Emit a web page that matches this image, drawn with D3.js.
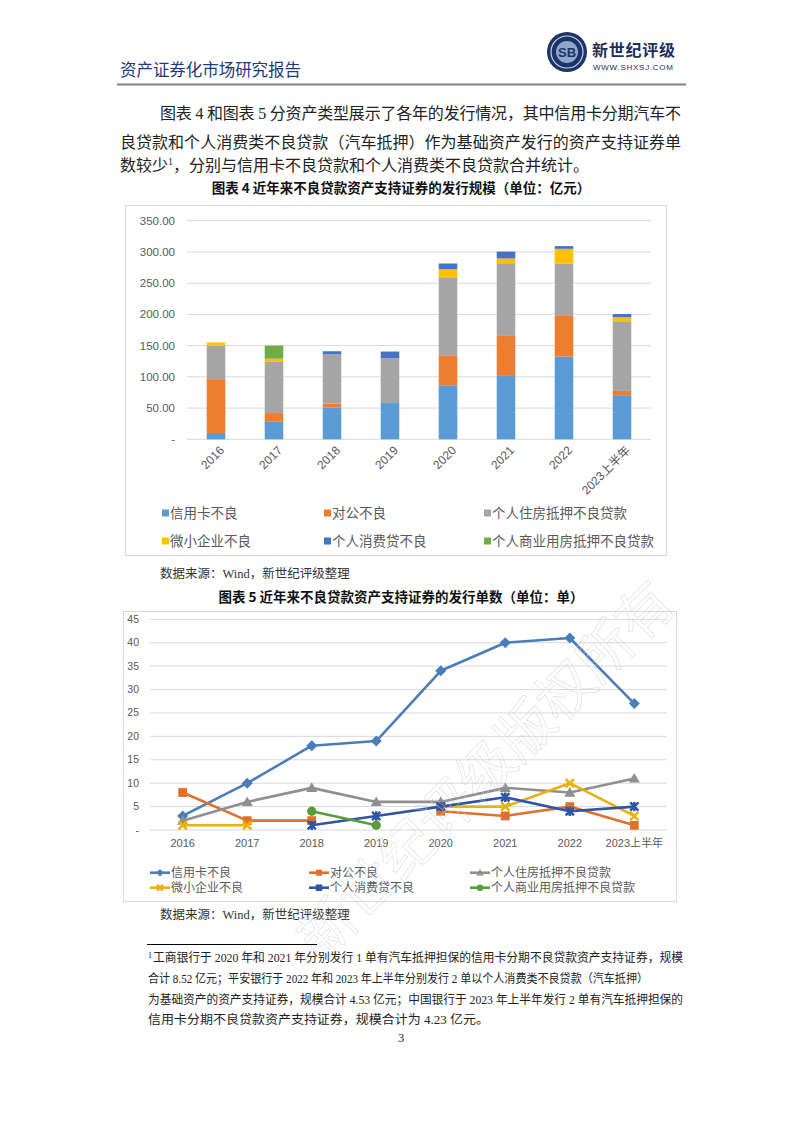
<!DOCTYPE html>
<html><head><meta charset="utf-8">
<script src="https://cdn.jsdelivr.net/npm/d3@7"></script>
<style>
html,body{margin:0;padding:0;background:#fff;}
svg{display:block;}
</style></head>
<body>
<svg id="page" width="802" height="1133"></svg>
<script>
// ---------- DATA ----------
const years = ["2016","2017","2018","2019","2020","2021","2022","2023上半年"];
const seriesNames = ["信用卡不良","对公不良","个人住房抵押不良贷款","微小企业不良","个人消费贷不良","个人商业用房抵押不良贷款"];
// Chart 4: issuance size (亿元)
const sizeCreditCard = [10, 28, 51, 58, 86.5, 101.5, 132.5, 69.5];
const sizeCorporate  = [85, 14, 6, 0, 48, 64, 65, 8];
const sizeHousing    = [55, 82, 79, 72, 125, 116.5, 84, 111.5];
const sizeSmallBiz   = [5, 5, 0, 0, 13, 7.5, 23.5, 6.5];
const sizeConsumer   = [0, 0, 5, 10.5, 9, 11, 4.3, 5];
const sizeCommercial = [0, 21, 0, 0, 0, 0, 0, 0];
const sizeTicks = [0, 50, 100, 150, 200, 250, 300, 350];
// Chart 5: number of deals (单)
const cntCreditCard = [3, 10, 18, 19, 34, 40, 41, 27];
const cntCorporate  = [8, 2, 2, null, 4, 3, 5, 1];
const cntHousing    = [2, 6, 9, 6, 6, 9, 8, 11];
const cntSmallBiz   = [1, 1, null, null, 5, 5, 10, 3];
const cntConsumer   = [null, null, 1, 3, 5, 7, 4, 5];
const cntCommercial = [null, null, 4, 1, null, null, null, null];
const cntTicks = [0, 5, 10, 15, 20, 25, 30, 35, 40, 45];

const barColors  = ["#5B9BD5","#ED7D31","#A5A5A5","#FFC000","#4472C4","#70AD47"];
const lineColors = ["#4A7EBB","#E0702A","#8F8F8F","#E8B10A","#2F55A4","#5A9C3C"];
const markers = ["diamond","square","triangle","x","star","circle"];

const svg = d3.select("#page");
const CJK = "'Noto Sans CJK SC', sans-serif";
const SERIF = "'Liberation Serif', 'Noto Sans CJK SC', serif";
const AX = "'Liberation Sans', 'Noto Sans CJK SC', sans-serif";

// ---------- HEADER ----------
svg.append("text").attr("x",120).attr("y",76).attr("font-family",CJK).attr("font-size",16.5)
  .attr("fill","#1F3A78").attr("textLength",181).text("资产证券化市场研究报告");
svg.append("line").attr("x1",117).attr("x2",686).attr("y1",84.5).attr("y2",84.5)
  .attr("stroke","#808080").attr("stroke-width",2);
// logo
const lg = svg.append("g").attr("transform","translate(567,52)");
lg.append("circle").attr("r",20).attr("fill","#1c3466");
lg.append("circle").attr("r",16).attr("fill","none").attr("stroke","#c9d3e6").attr("stroke-width",1.2);
lg.append("circle").attr("r",11).attr("fill","#8fa6cf");
lg.append("text").attr("y",5).attr("text-anchor","middle").attr("font-family",AX).attr("font-weight","bold")
  .attr("font-size",13).attr("fill","#1c3466").text("SB");
svg.append("text").attr("x",592).attr("y",56).attr("font-family",CJK).attr("font-weight","bold")
  .attr("font-size",16).attr("fill","#1d2d5c").attr("textLength",83).text("新世纪评级");
svg.append("text").attr("x",593).attr("y",70).attr("font-family",AX).attr("font-size",8)
  .attr("fill","#1d2d5c").attr("textLength",80).text("WWW.SHXSJ.COM");

// ---------- BODY TEXT ----------
const body = [
  {x:160, y:119, w:521, t:"图表 4 和图表 5 分资产类型展示了各年的发行情况，其中信用卡分期汽车不"},
  {x:120, y:148, w:561, t:"良贷款和个人消费类不良贷款（汽车抵押）作为基础资产发行的资产支持证券单"}
];
body.forEach(b=>{
  svg.append("text").attr("x",b.x).attr("y",b.y).attr("font-family",SERIF).attr("font-size",16)
    .attr("fill","#222").attr("textLength",b.w).attr("lengthAdjust","spacing").text(b.t);
});
const l3 = svg.append("text").attr("x",120).attr("y",171).attr("font-family",SERIF).attr("font-size",16).attr("fill","#222");
l3.append("tspan").text("数较少");
l3.append("tspan").attr("font-size",10).attr("dy",-6).text("1");
l3.append("tspan").attr("dy",6).text("，分别与信用卡不良贷款和个人消费类不良贷款合并统计。");

// ---------- CHART 4 (stacked bars) ----------
svg.append("text").attr("x",401).attr("y",193).attr("text-anchor","middle").attr("font-family",CJK)
  .attr("font-weight","bold").attr("font-size",13.5).attr("fill","#111").text("图表 4  近年来不良贷款资产支持证券的发行规模（单位：亿元）");
svg.append("rect").attr("x",125.5).attr("y",205.5).attr("width",541).attr("height",350)
  .attr("fill","#fff").attr("stroke","#d9d9d9");

const x1 = d3.scaleBand().domain(years).range([187,651]).paddingInner(0.68).paddingOuter(0.34);
const y1 = d3.scaleLinear().domain([0,350]).range([439.3,220.7]);
const g1 = svg.append("g");
g1.selectAll("line.grid").data(sizeTicks).join("line").attr("class","grid")
  .attr("x1",187).attr("x2",651).attr("y1",d=>y1(d)).attr("y2",d=>y1(d))
  .attr("stroke","#d9d9d9").attr("stroke-width",1);
g1.selectAll("text.yt").data(sizeTicks).join("text").attr("class","yt")
  .attr("x",175).attr("y",d=>y1(d)+4).attr("text-anchor","end").attr("font-family",AX)
  .attr("font-size",11.5).attr("fill","#595959").text(d=>d===0?"-":d3.format(".2f")(d));

const sizeSeries = [sizeCreditCard,sizeCorporate,sizeHousing,sizeSmallBiz,sizeConsumer,sizeCommercial];
const table = years.map((y,i)=>{const o={year:y}; sizeSeries.forEach((s,k)=>o["s"+k]=s[i]); return o;});
const stack = d3.stack().keys(sizeSeries.map((_,k)=>"s"+k))(table);
stack.forEach((layer,k)=>{
  g1.append("g").selectAll("rect").data(layer).join("rect")
    .attr("x",d=>x1(d.data.year)).attr("width",x1.bandwidth())
    .attr("y",d=>y1(d[1])).attr("height",d=>Math.max(0,y1(d[0])-y1(d[1])))
    .attr("fill",barColors[k]);
});
g1.selectAll("text.xt").data(years).join("text").attr("class","xt")
  .attr("transform",d=>`translate(${x1(d)+x1.bandwidth()/2+9},${451}) rotate(-45)`)
  .attr("text-anchor","end").attr("font-family",AX).attr("font-size",12).attr("fill","#595959").text(d=>d);

// legend 1
const leg1Pos = [[165,513],[327,513],[487,513],[165,541],[327,541],[487,541]];
seriesNames.forEach((n,k)=>{
  const [lx,ly]=leg1Pos[k];
  svg.append("rect").attr("x",lx-3).attr("y",ly-3.5).attr("width",7).attr("height",7).attr("fill",barColors[k]);
  svg.append("text").attr("x",lx+5).attr("y",ly+5).attr("font-family",SERIF).attr("font-size",13.5)
    .attr("fill","#595959").text(n);
});
svg.append("text").attr("x",160).attr("y",578).attr("font-family",SERIF).attr("font-size",12.5)
  .attr("fill","#333").text("数据来源：Wind，新世纪评级整理");

// ---------- CHART 5 (lines) ----------
svg.append("text").attr("x",401).attr("y",602).attr("text-anchor","middle").attr("font-family",CJK)
  .attr("font-weight","bold").attr("font-size",13.5).attr("fill","#111").text("图表 5  近年来不良贷款资产支持证券的发行单数（单位：单）");
svg.append("rect").attr("x",123.5).attr("y",611.5).attr("width",553).attr("height",290)
  .attr("fill","#fff").attr("stroke","#d9d9d9");

const x2 = d3.scalePoint().domain(years).range([182.7,634.3]);
const y2 = d3.scaleLinear().domain([0,45]).range([830,619.3]);
const g2 = svg.append("g");
g2.selectAll("line.grid").data(cntTicks).join("line").attr("class","grid")
  .attr("x1",150).attr("x2",666.7).attr("y1",d=>y2(d)).attr("y2",d=>y2(d))
  .attr("stroke","#d9d9d9").attr("stroke-width",1);
g2.selectAll("text.yt").data(cntTicks).join("text").attr("class","yt")
  .attr("x",139).attr("y",d=>y2(d)+3.5).attr("text-anchor","end").attr("font-family",AX)
  .attr("font-size",10.5).attr("fill","#595959").text(d=>d===0?"-":d);
g2.selectAll("text.xt").data(years).join("text").attr("class","xt")
  .attr("x",d=>x2(d)).attr("y",847).attr("text-anchor","middle").attr("font-family",AX)
  .attr("font-size",11).attr("fill","#595959").text(d=>d);

function drawMarker(g, type, color, cx, cy, s){
  const m = g.append("g").attr("transform",`translate(${cx},${cy})`);
  if(type==="diamond") m.append("path").attr("d",`M0,${-s}L${s},0L0,${s}L${-s},0Z`).attr("fill",color);
  else if(type==="square") m.append("rect").attr("x",-s*0.8).attr("y",-s*0.8).attr("width",s*1.6).attr("height",s*1.6).attr("fill",color);
  else if(type==="triangle") m.append("path").attr("d",`M0,${-s}L${s},${s*0.75}L${-s},${s*0.75}Z`).attr("fill",color);
  else if(type==="circle") m.append("circle").attr("r",s*0.85).attr("fill",color);
  else if(type==="x") m.append("path").attr("d",`M${-s*0.75},${-s*0.75}L${s*0.75},${s*0.75}M${s*0.75},${-s*0.75}L${-s*0.75},${s*0.75}`).attr("stroke",color).attr("stroke-width",2.5);
  else if(type==="star") m.append("path").attr("d",`M${-s*0.75},${-s*0.75}L${s*0.75},${s*0.75}M${s*0.75},${-s*0.75}L${-s*0.75},${s*0.75}M0,${-s*0.85}L0,${s*0.85}`).attr("stroke",color).attr("stroke-width",2.5);
}
const cntSeries = [cntCreditCard,cntCorporate,cntHousing,cntSmallBiz,cntConsumer,cntCommercial];
const line = d3.line().defined(d=>d[1]!=null).x(d=>x2(d[0])).y(d=>y2(d[1]));
cntSeries.forEach((s,k)=>{
  const pts = years.map((y,i)=>[y,s[i]]);
  g2.append("path").attr("d",line(pts)).attr("fill","none").attr("stroke",lineColors[k])
    .attr("stroke-width",2.6).attr("stroke-linejoin","round");
  pts.filter(p=>p[1]!=null).forEach(p=>drawMarker(g2,markers[k],lineColors[k],x2(p[0]),y2(p[1]),5.5));
});
// legend 2
const leg2Pos = [[150,872.7],[309,872.7],[470,872.7],[150,887.7],[309,887.7],[470,887.7]];
seriesNames.forEach((n,k)=>{
  const [lx,ly]=leg2Pos[k];
  svg.append("line").attr("x1",lx).attr("x2",lx+20).attr("y1",ly).attr("y2",ly)
    .attr("stroke",lineColors[k]).attr("stroke-width",2.6);
  drawMarker(svg,markers[k],lineColors[k],lx+10,ly,3.8);
  svg.append("text").attr("x",lx+21).attr("y",ly+4).attr("font-family",SERIF).attr("font-size",12)
    .attr("fill","#595959").text(n);
});
svg.append("text").attr("x",160).attr("y",919).attr("font-family",SERIF).attr("font-size",12.5)
  .attr("fill","#333").text("数据来源：Wind，新世纪评级整理");

// watermark
svg.append("text").attr("transform","translate(322,962) rotate(-45)").attr("font-family",CJK)
  .attr("font-size",56).attr("fill","none").attr("stroke","#cfcfcf").attr("stroke-width",0.7)
  .attr("opacity",0.6).text("新世纪评级版权所有");

// ---------- FOOTNOTE ----------
svg.append("line").attr("x1",147).attr("x2",317).attr("y1",944.5).attr("y2",944.5).attr("stroke","#000").attr("stroke-width",1);
const fn = [
  {y:962, w:530, t:"工商银行于 2020 年和 2021 年分别发行 1 单有汽车抵押担保的信用卡分期不良贷款资产支持证券，规模", sup:true},
  {y:983, w:500, t:"合计 8.52 亿元；平安银行于 2022 年和 2023 年上半年分别发行 2 单以个人消费类不良贷款（汽车抵押）"},
  {y:1004, w:535, t:"为基础资产的资产支持证券，规模合计 4.53 亿元；中国银行于 2023 年上半年发行 2 单有汽车抵押担保的"},
  {y:1024, w:341, t:"信用卡分期不良贷款资产支持证券，规模合计为 4.23 亿元。"}
];
fn.forEach(f=>{
  const x0 = f.sup ? 153 : 148;
  if(f.sup){
    svg.append("text").attr("x",148).attr("y",f.y-4).attr("font-family",SERIF).attr("font-size",8).attr("fill","#222").text("1");
  }
  svg.append("text").attr("x",x0).attr("y",f.y).attr("font-family",SERIF).attr("font-size",12)
    .attr("fill","#222").attr("textLength",f.w).attr("lengthAdjust","spacingAndGlyphs").text(f.t);
});
svg.append("text").attr("x",401).attr("y",1042).attr("text-anchor","middle").attr("font-family",SERIF)
  .attr("font-size",12.5).attr("fill","#222").text("3");
</script>
</body></html>
